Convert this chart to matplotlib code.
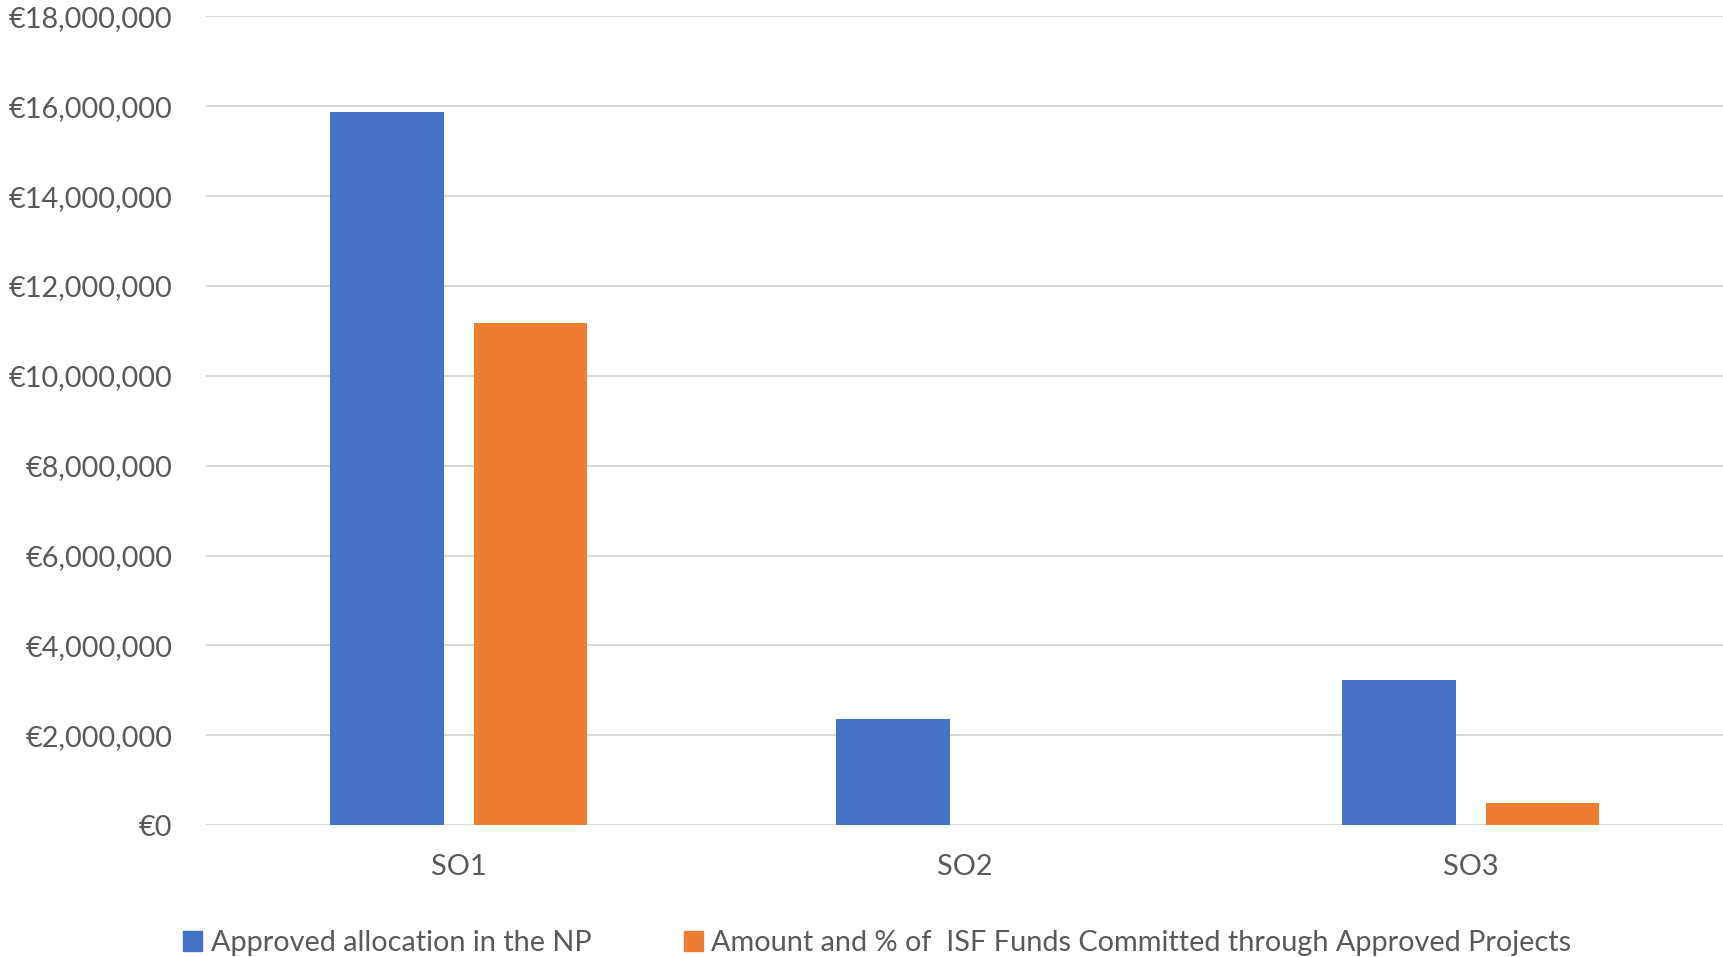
import matplotlib
matplotlib.use("Agg")
import matplotlib.pyplot as plt
import numpy as np
from matplotlib.ticker import FuncFormatter, MultipleLocator
from matplotlib.patches import Patch

categories = ["SO1", "SO2", "SO3"]
approved = [15880000, 2360000, 3220000]
committed = [11180000, 0, 500000]
series_names = ["Approved allocation in the NP",
                "Amount and % of  ISF Funds Committed through Approved Projects"]

BLUE = "#4472C4"
ORANGE = "#ED7D31"
TXT = "#595959"
GRID = "#D9D9D9"

plt.rcParams['font.family'] = ['Lato', 'DejaVu Sans']

fig = plt.figure(figsize=(17.24, 9.57), dpi=100)
ax = fig.add_axes([0.1193, 0.1379, 0.8807, 0.8449])

x = np.arange(len(categories))
w = 0.224
off = 0.142
ax.bar(x - off, approved, width=w, color=BLUE, zorder=3)
ax.bar(x + off, committed, width=w, color=ORANGE, zorder=3)

ax.set_xlim(-0.5, 2.5)
ax.set_ylim(0, 18000000)
ax.yaxis.set_major_locator(MultipleLocator(2000000))
ax.yaxis.set_major_formatter(FuncFormatter(lambda v, p: "€{:,.0f}".format(v)))
ax.set_xticks(x)
ax.set_xticklabels(categories)
ax.grid(axis='y', color=GRID, linewidth=1.4, zorder=0)
for s in ax.spines.values():
    s.set_visible(False)
ax.tick_params(axis='both', length=0, labelsize=20.8, labelcolor=TXT)
ax.tick_params(axis='y', pad=24)
ax.tick_params(axis='x', pad=21)
for lbl in ax.get_yticklabels():
    lbl.set_horizontalalignment('right')

handles = [Patch(color=BLUE), Patch(color=ORANGE)]
leg = fig.legend(handles, series_names, loc='center', bbox_to_anchor=(0.509, 0.0145),
                 ncol=2, frameon=False, fontsize=20.8, handlelength=0.65, handleheight=0.65,
                 handletextpad=0.3, columnspacing=3.2, borderaxespad=0)
for t in leg.get_texts():
    t.set_color(TXT)

fig.savefig("out.png", dpi=100)
